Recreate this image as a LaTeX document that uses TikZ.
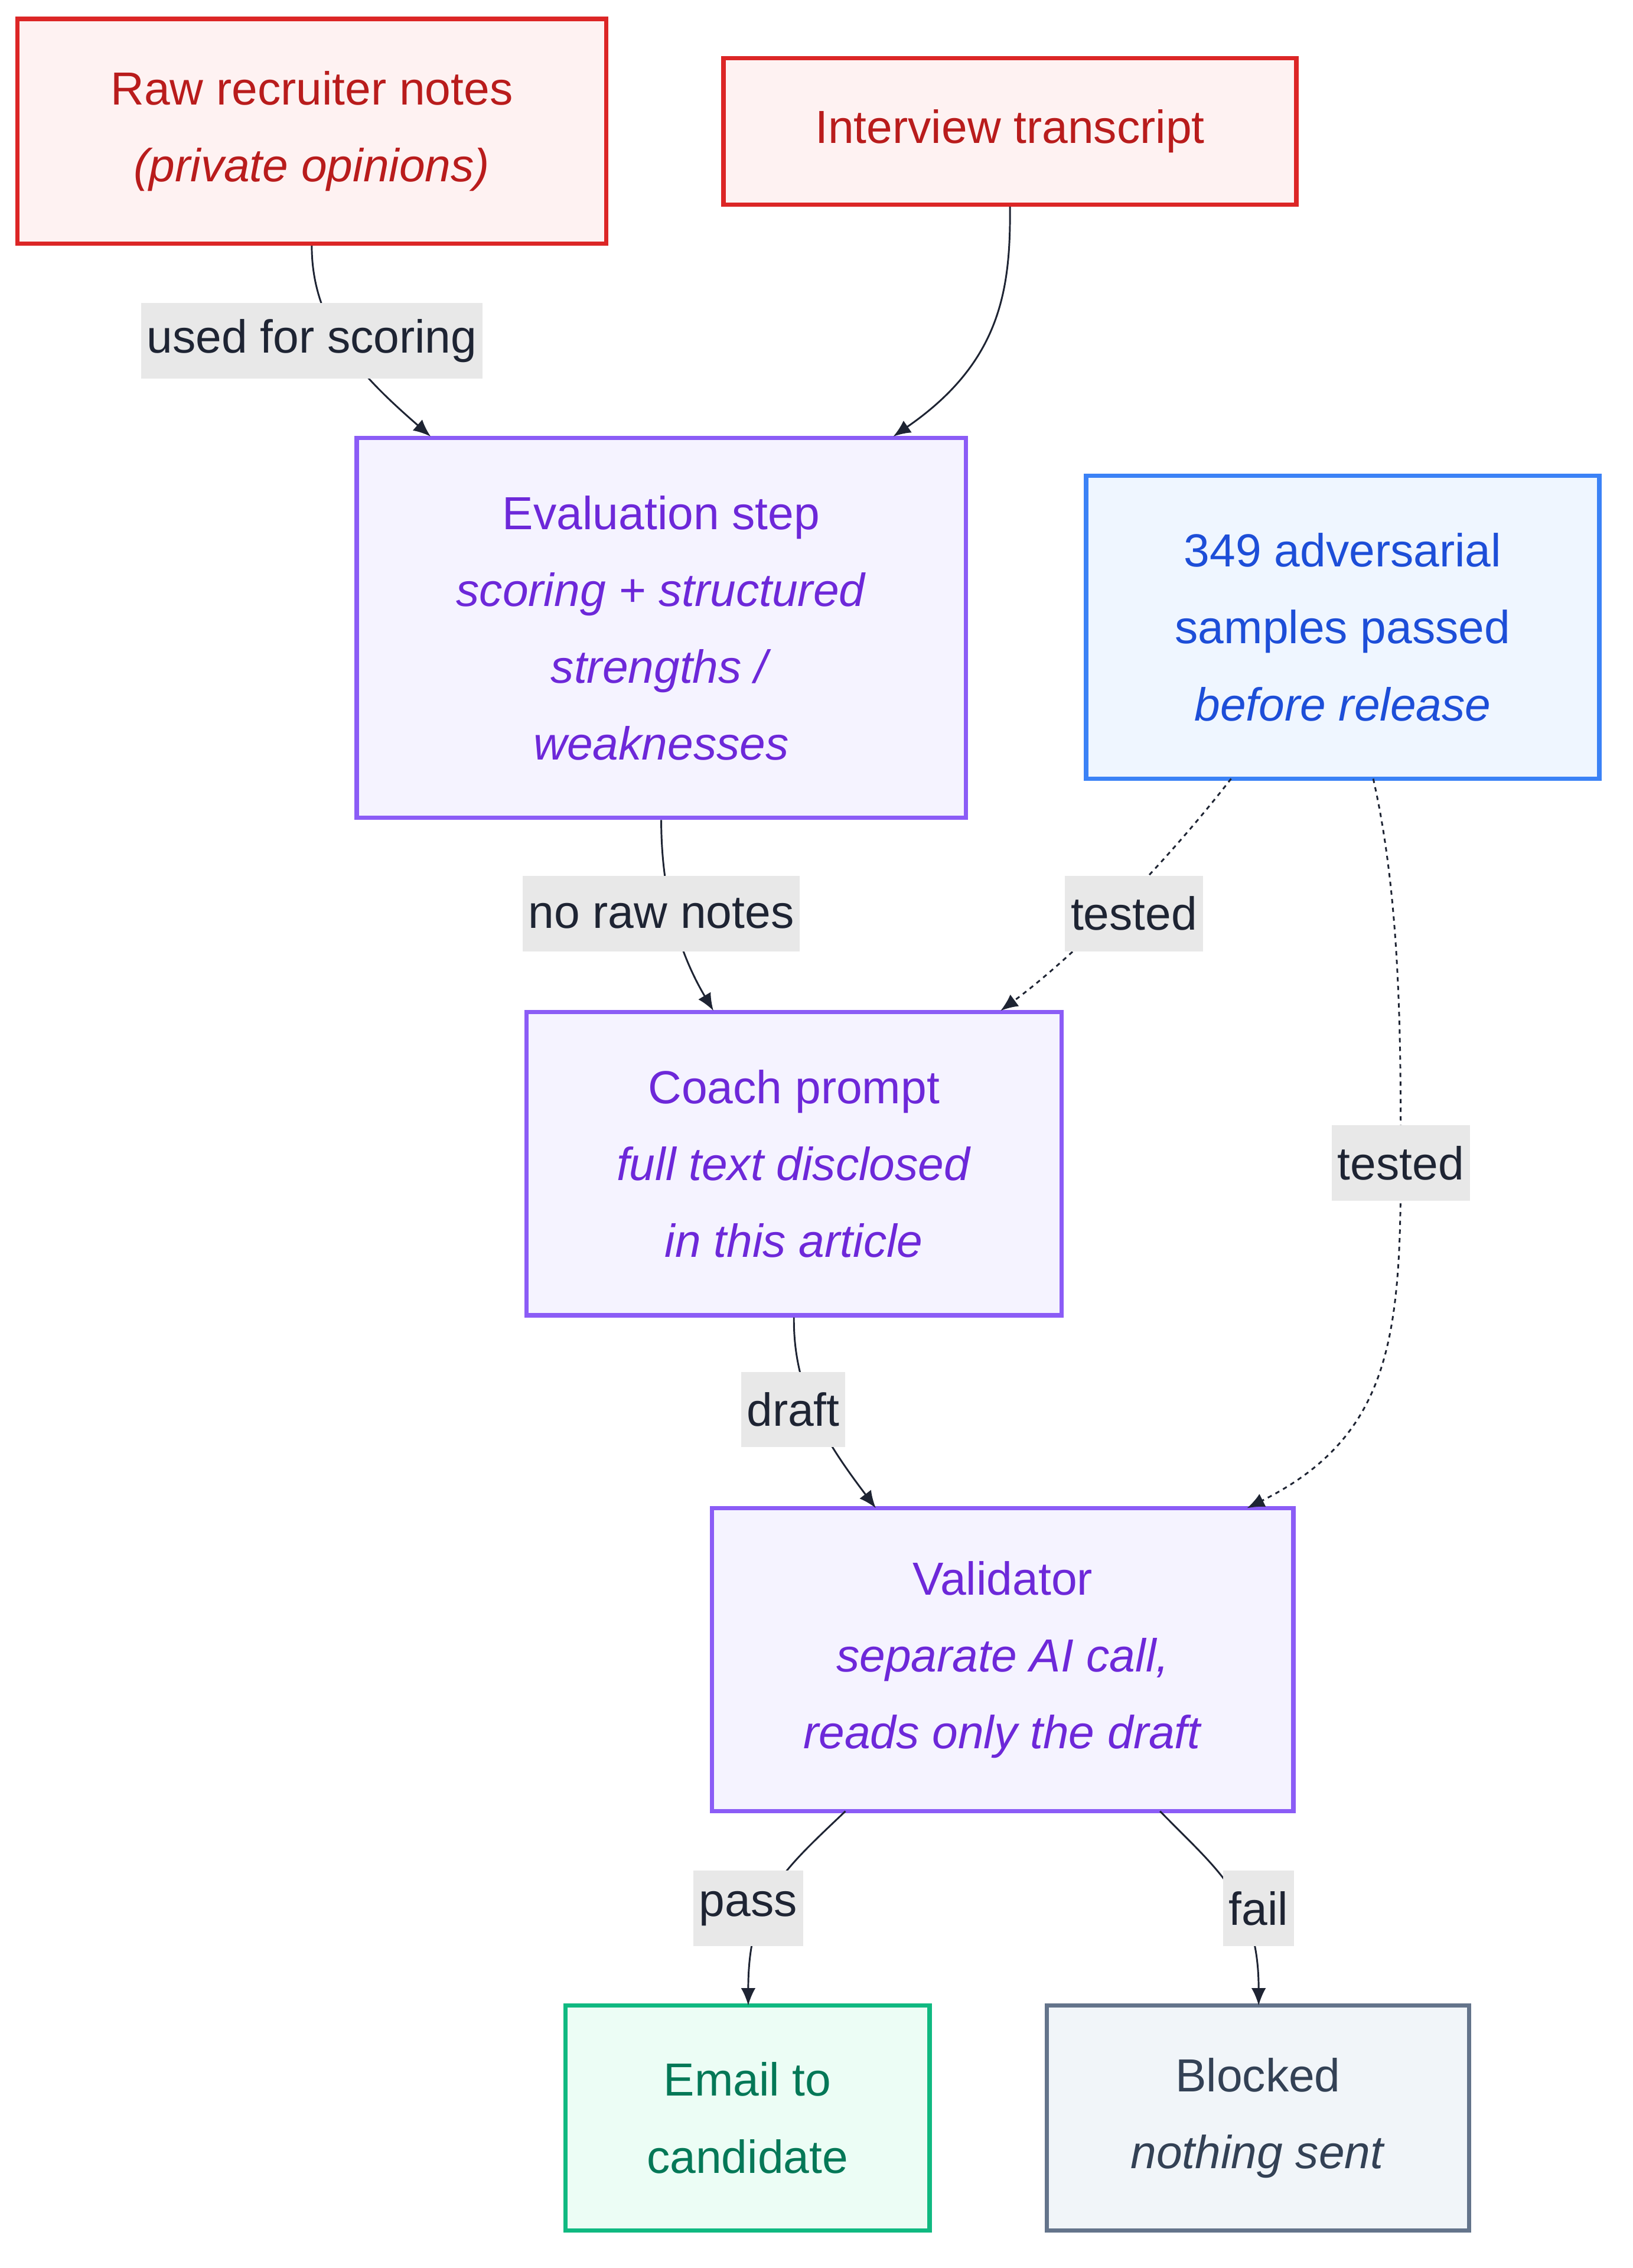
\documentclass[tikz,border=0pt]{standalone}
\usepackage{fontspec}
\setmainfont{Liberation Sans}
\usetikzlibrary{arrows.meta}
\definecolor{rS}{HTML}{DC2626}\definecolor{rF}{HTML}{FEF2F2}\definecolor{rT}{HTML}{B91C1C}
\definecolor{pS}{HTML}{8B5CF6}\definecolor{pF}{HTML}{F5F3FF}\definecolor{pT}{HTML}{6D28D9}
\definecolor{bS}{HTML}{3B82F6}\definecolor{bF}{HTML}{EFF6FF}\definecolor{bT}{HTML}{1D4ED8}
\definecolor{gS}{HTML}{10B981}\definecolor{gF}{HTML}{ECFDF5}\definecolor{gT}{HTML}{047857}
\definecolor{sS}{HTML}{64748B}\definecolor{sF}{HTML}{F1F5F9}\definecolor{sT}{HTML}{334155}
\definecolor{eC}{HTML}{1E2433}\definecolor{lB}{HTML}{E8E8E8}
\begin{document}
\begin{tikzpicture}[x=0.5pt,y=-0.5pt,
 box/.style={draw,line width=1.5pt,inner sep=0pt,align=center,font=\fontsize{16}{26.5}\selectfont},
 red/.style={box,draw=rS,fill=rF,text=rT},
 pur/.style={box,draw=pS,fill=pF,text=pT},
 blu/.style={box,draw=bS,fill=bF,text=bT},
 grn/.style={box,draw=gS,fill=gF,text=gT},
 sla/.style={box,draw=sS,fill=sF,text=sT},
 edge/.style={draw=eC,line width=0.6pt,-{Latex[length=6pt,width=5pt]}},
 dedge/.style={edge,dash pattern=on 1.5pt off 1.5pt},
 lbl/.style={fill=lB,text=eC,inner sep=2pt,minimum height=26pt,font=\fontsize{16}{19}\selectfont}]
\useasboundingbox[fill=white] (0,0) rectangle (1126,1564);
\node[red,minimum width=203pt,minimum height=77.5pt] (raw) at (215,90.5) {Raw recruiter notes\\\textit{(private opinions)}};
\node[red,minimum width=197.5pt,minimum height=50.5pt] (int) at (696.5,90.5) {Interview transcript};
\node[pur,minimum width=210pt,minimum height=131pt] (eval) at (456,433) {Evaluation step\\\textit{scoring + structured}\\\textit{strengths /}\\\textit{weaknesses}};
\node[blu,minimum width=177pt,minimum height=104.5pt] (adv) at (926,432.5) {349 adversarial\\samples passed\\\textit{before release}};
\node[pur,minimum width=184.5pt,minimum height=104.5pt] (coach) at (547.5,802.5) {Coach prompt\\\textit{full text disclosed}\\\textit{in this article}};
\node[pur,minimum width=200.5pt,minimum height=104.5pt] (val) at (691.5,1144.5) {Validator\\\textit{separate AI call,}\\\textit{reads only the draft}};
\node[grn,minimum width=125.5pt,minimum height=77.5pt] (mail) at (515.5,1460.5) {Email to\\candidate};
\node[sla,minimum width=145.5pt,minimum height=77.5pt] (blk) at (867.5,1460.5) {Blocked\\\textit{nothing sent}};
\coordinate (e1) at (297,301);\coordinate (e2) at (616,301);
\coordinate (c1) at (492,697);\coordinate (c2) at (690,697);
\coordinate (v1) at (604,1040);\coordinate (v2) at (860,1040);
\coordinate (a1) at (849,537);\coordinate (a2) at (947,537);
\coordinate (s1) at (583,1249);\coordinate (s2) at (800,1249);
\coordinate (m1) at (516,1383);\coordinate (b1) at (868,1383);
\draw[edge] (raw.south) .. controls (215,225) and (250,260) .. (e1);
\draw[edge] (int.south) .. controls (697,200) and (690,250) .. (e2);
\draw[edge] (eval.south) .. controls (456,620) and (470,660) .. (c1);
\draw[dedge] (a1) .. controls (800,600) and (740,660) .. (c2);
\draw[dedge] (a2) .. controls (966,620) and (966,720) .. (966,800) .. controls (966,920) and (960,990) .. (v2);
\draw[edge] (coach.south) .. controls (547,960) and (570,995) .. (v1);
\draw[edge] (s1) .. controls (540,1290) and (516,1310) .. (m1);
\draw[edge] (s2) .. controls (840,1290) and (868,1310) .. (b1);
\node[lbl] (l1) at (215,235) {used for scoring};
\node[lbl] (l2) at (456,630) {no raw notes};
\node[lbl] (l3) at (782,630) {tested};
\node[lbl] (l4) at (966,802) {tested};
\node[lbl] (l5) at (547,972) {draft};
\node[lbl] (l6) at (516,1316) {pass};
\node[lbl] (l7) at (868,1316) {fail};
\end{tikzpicture}
\end{document}
